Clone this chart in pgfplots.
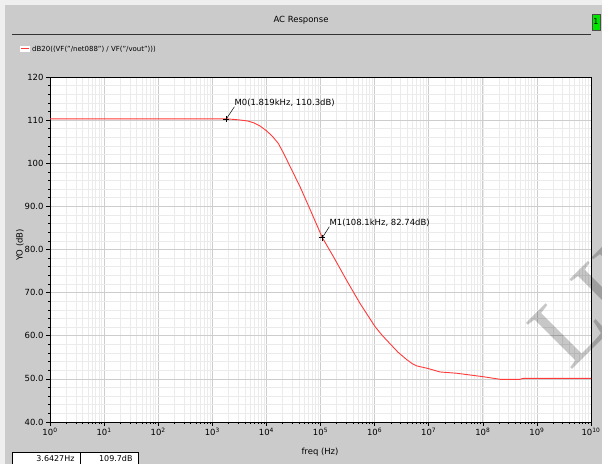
\documentclass[border=0pt]{standalone}
\usepackage{pgfplots}
\pgfplotsset{compat=1.18}
\usepackage{fontspec}
\setmainfont{DejaVu Sans}
\newfontfamily\wmfont{Liberation Serif}
\definecolor{bg}{HTML}{CBCBCB}
\definecolor{curve}{HTML}{FF3A3A}
\definecolor{gmaj}{HTML}{CDCDCD}
\definecolor{gmin}{HTML}{EBEBEB}
\begin{document}
\begin{tikzpicture}[x=1bp,y=1bp]
\fill[bg] (0,0) rectangle (602,464);
\fill[white!70!bg] (0,0) rectangle (5,464);
\fill[white!70!bg] (0,459) rectangle (602,464);
\useasboundingbox (0,0) rectangle (602,464);
% title bar
\node[font=\fontsize{8.5}{10}\selectfont] at (301,444) {AC Response};
\draw[black!80,line width=0.8bp] (12,430) -- (591,430);
\draw[black!70,fill=green!90!black] (592,434) rectangle (600,450);
\node[font=\fontsize{8}{9}\selectfont] at (596,442) {1};
% legend
\fill[white] (20,412) rectangle (30,418);
\draw[curve,line width=1bp] (21,415) -- (29,415);
\node[anchor=west,font=\fontsize{7}{8}\selectfont,inner sep=0pt] at (32,415) {dB20((VF("/net088") / VF("/vout")))};
\begin{axis}[
  at={(50bp,42bp)}, anchor=south west,
  scale only axis, width=541bp, height=345bp,
  xmode=log, xmin=1, xmax=1e10, ymin=40, ymax=120,
  axis background/.style={fill=white},
  grid=both,
  major grid style={gmaj,line width=0.7bp},
  minor grid style={gmin,line width=0.6bp},
  tick align=outside, tick pos=left,
  major tick length=4bp, minor tick length=2bp,
  tick style={black,line width=0.6bp},
  axis line style={black,line width=0.8bp},
  xtick={1,10,100,1e3,1e4,1e5,1e6,1e7,1e8,1e9,1e10},
  xticklabels={10\textsuperscript{0},10\textsuperscript{1},10\textsuperscript{2},10\textsuperscript{3},10\textsuperscript{4},10\textsuperscript{5},10\textsuperscript{6},10\textsuperscript{7},10\textsuperscript{8},10\textsuperscript{9},10\textsuperscript{10}},
  ytick={40,50,60,70,80,90,100,110,120},
  yticklabels={40.0,50.0,60.0,70.0,80.0,90.0,100,110,120},
  minor y tick num=4,
  ticklabel style={font=\fontsize{8.5}{10}\selectfont},
  xticklabel style={yshift=1bp},
  yticklabel style={xshift=1bp},
  clip=false,
]
\addplot[curve,line width=0.9bp] coordinates {
(1,110.3) (1e3,110.3) (1.819e3,110.3) (3.16e3,110.05) (4.5e3,109.8) (5.75e3,109.4)
(7.5e3,108.7) (1.01e4,107.5) (1.3e4,106.2) (1.66e4,104.6) (2.1e4,102.2)
(2.75e4,99.2) (4.17e4,94.6) (6.46e4,89.2) (1.081e5,82.74)
(1.74e5,78.3) (3.02e5,72.9) (5.37e5,67.5) (1.02e6,62.1) (1.4e6,60.0) (1.91e6,58.2)
(2.7e6,56.2) (3.89e6,54.5) (5e6,53.5) (6.03e6,53.0) (9.77e6,52.4) (1.62e7,51.6) (3.31e7,51.3)
(1.02e8,50.5) (2.09e8,49.9) (4.9e8,49.9) (5.5e8,50.1) (1e10,50.1)
};
\addplot[only marks,mark=+,mark size=3bp,black,line width=0.6bp] coordinates {(1.819e3,110.3) (1.081e5,82.74)};
\draw[black,line width=0.5bp] (axis cs:1.819e3,110.3) -- ++(8bp,12bp) node[anchor=south west,inner sep=0pt,font=\fontsize{8.5}{10}\selectfont,black] {M0(1.819kHz, 110.3dB)};
\draw[black,line width=0.5bp] (axis cs:1.081e5,82.74) -- ++(7bp,11bp) node[anchor=south west,inner sep=0pt,font=\fontsize{8.5}{10}\selectfont,black] {M1(108.1kHz, 82.74dB)};
\end{axis}
% watermark
\node[rotate=45,anchor=base west,inner sep=0pt,text=black,text opacity=0.22,font=\wmfont\fontsize{100}{100}\selectfont] at (570,92) {LIU};
\node[font=\fontsize{8.5}{10}\selectfont] at (320,12) {freq (Hz)};
\node[rotate=90,font=\fontsize{8.5}{10}\selectfont] at (20,219) {YO (dB)};
% cursor boxes
\draw[black,fill=white,line width=0.6bp] (12,-1) rectangle (80,12);
\draw[black,fill=white,line width=0.6bp] (80,-1) rectangle (138,12);
\node[anchor=east,font=\fontsize{8}{9}\selectfont] at (78,5.5) {3.6427Hz};
\node[anchor=east,font=\fontsize{8}{9}\selectfont] at (136,5.5) {109.7dB};
\end{tikzpicture}
\end{document}
